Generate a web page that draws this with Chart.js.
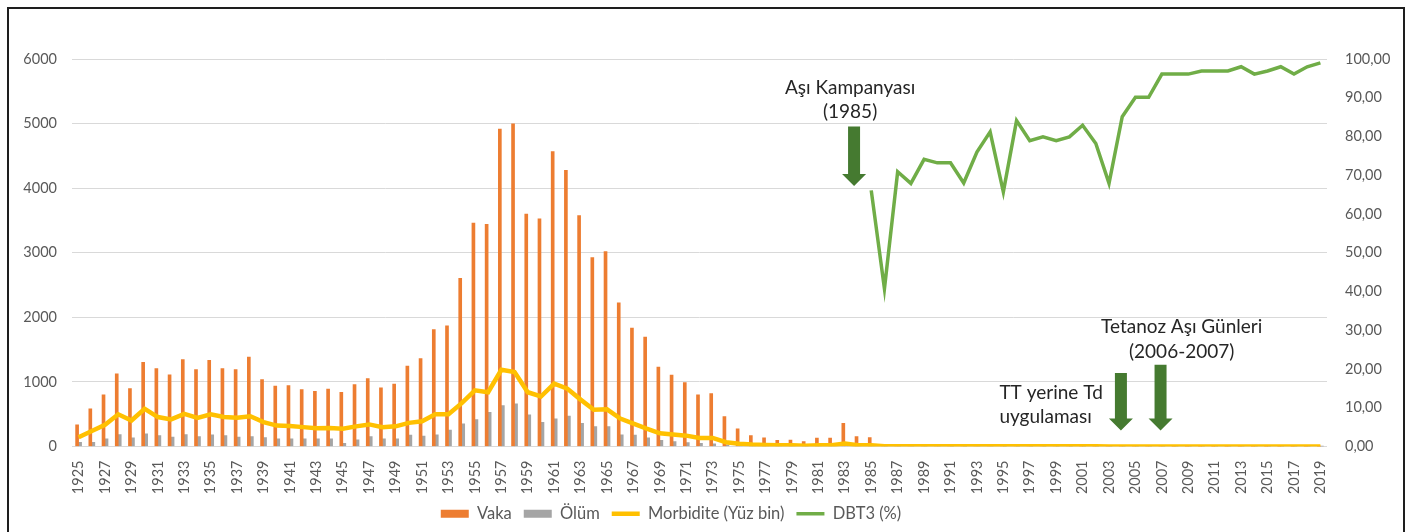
<!DOCTYPE html>
<html>
<head>
<meta charset="utf-8">
<script src="https://cdn.jsdelivr.net/npm/chart.js@4"></script>
<style>
    html, body { margin: 0; padding: 0; background: #fff; }
    .wrap { position: relative; width: 1410px; height: 532px; overflow: hidden; }
    .frame {
        position: absolute; left: 7px; top: 7px; width: 1398px; height: 560px;
        border: 2px solid #1e1e1e; box-sizing: border-box; pointer-events: none;
    }
</style>
</head>
<body>
<div class="wrap">
    <canvas id="tetanozChart" width="1410" height="532"></canvas>
    <div class="frame"></div>
</div>
<script>
// Yillar (kategori)
const years = [
    1925, 1926, 1927, 1928, 1929, 1930, 1931, 1932, 1933, 1934,
    1935, 1936, 1937, 1938, 1939, 1940, 1941, 1942, 1943, 1944,
    1945, 1946, 1947, 1948, 1949, 1950, 1951, 1952, 1953, 1954,
    1955, 1956, 1957, 1958, 1959, 1960, 1961, 1962, 1963, 1964,
    1965, 1966, 1967, 1968, 1969, 1970, 1971, 1972, 1973, 1974,
    1975, 1976, 1977, 1978, 1979, 1980, 1981, 1982, 1983, 1984,
    1985, 1986, 1987, 1988, 1989, 1990, 1991, 1992, 1993, 1994,
    1995, 1996, 1997, 1998, 1999, 2000, 2001, 2002, 2003, 2004,
    2005, 2006, 2007, 2008, 2009, 2010, 2011, 2012, 2013, 2014,
    2015, 2016, 2017, 2018, 2019
];

// Vaka sayisi
const vaka = [
    335, 585, 800, 1125, 895, 1305, 1205, 1110, 1345, 1190,
    1335, 1205, 1190, 1385, 1035, 935, 945, 880, 855, 890,
    840, 960, 1050, 910, 965, 1245, 1360, 1810, 1870, 2605,
    3460, 3440, 4915, 4995, 3600, 3525, 4565, 4275, 3575, 2925,
    3020, 2225, 1835, 1695, 1230, 1105, 990, 800, 820, 465,
    275, 170, 135, 95, 100, 75, 130, 130, 360, 155,
    140, 25, 20, 18, 15, 15, 12, 15, 35, 30,
    12, 10, 10, 9, 8, 8, 7, 6, 6, 5,
    5, 4, 4, 3, 3, 3, 2, 2, 2, 2,
    2, 1, 1, 1, 1
];

// Olum sayisi
const olum = [
    65, 65, 120, 185, 135, 195, 170, 145, 185, 155,
    180, 170, 145, 155, 140, 120, 120, 120, 120, 120,
    50, 105, 155, 120, 120, 175, 160, 180, 255, 350,
    415, 530, 635, 660, 490, 375, 430, 470, 360, 310,
    310, 180, 175, 135, 95, 75, 60, 50, 40, 25,
    15, 12, 10, 8, 8, 6, 8, 8, 15, 8,
    8, 5, 5, 4, 4, 4, 3, 3, 6, 5,
    3, 3, 2, 2, 2, 2, 2, 2, 1, 1,
    1, 1, 1, 1, 1, 1, 1, 1, 1, 1,
    1, 1, 1, 1, 1
];

// Morbidite (yuz binde)
const morbidite = [
    2.4, 4.0, 5.6, 8.3, 6.7, 9.7, 7.6, 7.0, 8.4, 7.4,
    8.3, 7.6, 7.4, 7.8, 6.3, 5.4, 5.3, 5.0, 4.7, 4.8,
    4.6, 5.2, 5.7, 5.0, 5.2, 6.1, 6.5, 8.3, 8.3, 11.2,
    14.5, 14.0, 19.8, 19.2, 14.0, 12.9, 16.2, 14.9, 12.1, 9.5,
    9.6, 7.2, 5.9, 4.6, 3.4, 3.1, 2.8, 2.2, 2.2, 1.1,
    0.7, 0.5, 0.4, 0.3, 0.3, 0.2, 0.3, 0.3, 0.8, 0.3,
    0.3, 0.05, 0.05, 0.05, 0.05, 0.05, 0.05, 0.05, 0.06, 0.06,
    0.05, 0.05, 0.04, 0.04, 0.04, 0.04, 0.04, 0.04, 0.03, 0.03,
    0.03, 0.03, 0.03, 0.03, 0.03, 0.03, 0.02, 0.02, 0.02, 0.02,
    0.02, 0.02, 0.02, 0.02, 0.02
];

// DBT3 asilama hizi (%) - 1985 ve sonrasi
const dbt3StartYear = 1985;
const dbt3 = [
    66.1, 40.7, 70.9, 67.9, 74.1, 73.2, 73.2, 68.0, 76.0, 81.2,
    65.7, 84.1, 78.9, 79.9, 78.9, 79.9, 82.9, 78.2, 67.9, 85.1,
    90.1, 90.1, 96.1, 96.1, 96.1, 96.9, 96.9, 96.9, 98.0, 96.1,
    96.9, 98.0, 96.1, 98.0, 99.0
];

const dbt3Data = years.map(y => y < dbt3StartYear ? null : dbt3[y - dbt3StartYear]);

// Notlar (oklar ve yazilar)
const notes = [
    { lines: ['Aşı Kampanyası', '(1985)'], x: 58.4, ys: [92.6, 86.4], align: 'center' },
    { lines: ['TT yerine Td', 'uygulaması'], x: 69.7, ys: [13.8, 7.7], align: 'left' },
    { lines: ['Tetanoz Aşı Günleri', '(2006-2007)'], x: 83.5, ys: [30.8, 24.3], align: 'center' }
];
const arrows = [
    { x: 58.7, top: 82.6, tip: 67.2 },
    { x: 78.9, top: 19.0, tip: 4.1 },
    { x: 81.9, top: 21.1, tip: 4.1 }
];

const FONT = 'Lato, "Open Sans", sans-serif';

const notesPlugin = {
    id: 'notes',
    afterLayout(chart) {
        // legend biraz sola kayik duruyor
        if (chart.legend) {
            chart.legend.right -= 68;
        }
    },
    afterDatasetsDraw(chart) {
        const ctx = chart.ctx;
        const xs = chart.scales.x;
        const yr = chart.scales.y1;
        ctx.save();
        ctx.fillStyle = '#457a30';
        arrows.forEach(a => {
            const cx = xs.getPixelForValue(a.x);
            const top = yr.getPixelForValue(a.top);
            const tip = yr.getPixelForValue(a.tip);
            const head = 12;
            ctx.beginPath();
            ctx.moveTo(cx - 6, top);
            ctx.lineTo(cx + 6, top);
            ctx.lineTo(cx + 6, tip - head);
            ctx.lineTo(cx + 12, tip - head);
            ctx.lineTo(cx, tip);
            ctx.lineTo(cx - 12, tip - head);
            ctx.lineTo(cx - 6, tip - head);
            ctx.closePath();
            ctx.fill();
        });
        ctx.fillStyle = '#262626';
        ctx.font = '19px ' + FONT;
        ctx.textBaseline = 'middle';
        notes.forEach(n => {
            ctx.textAlign = n.align;
            const px = xs.getPixelForValue(n.x);
            n.lines.forEach((t, i) => {
                ctx.fillText(t, px, yr.getPixelForValue(n.ys[i]));
            });
        });
        ctx.restore();
    }
};

const ctx = document.getElementById('tetanozChart');
new Chart(ctx, {
    type: 'bar',
    data: {
        labels: years,
        datasets: [
            {
                label: 'Vaka',
                data: vaka,
                backgroundColor: '#ed7d31',
                borderWidth: 0,
                barThickness: 3,
                pointStyle: 'rect',
                yAxisID: 'y',
                order: 2
            },
            {
                label: 'Ölüm',
                data: olum,
                backgroundColor: '#a5a5a5',
                borderWidth: 0,
                barThickness: 3,
                pointStyle: 'rect',
                yAxisID: 'y',
                order: 2
            },
            {
                type: 'line',
                label: 'Morbidite (Yüz bin)',
                data: morbidite,
                borderColor: '#ffc000',
                backgroundColor: '#ffc000',
                borderWidth: 4.5,
                pointRadius: 0,
                pointStyle: 'line',
                tension: 0,
                yAxisID: 'y1',
                order: 1
            },
            {
                type: 'line',
                label: 'DBT3 (%)',
                data: dbt3Data,
                borderColor: '#70ad47',
                backgroundColor: '#70ad47',
                borderWidth: 3.5,
                pointRadius: 0,
                pointStyle: 'line',
                tension: 0,
                yAxisID: 'y1',
                order: 0
            }
        ]
    },
    options: {
        responsive: false,
        animation: false,
        layout: {
            padding: { top: 59, left: 0, right: 0, bottom: 0 }
        },
        plugins: {
            legend: {
                position: 'bottom',
                labels: {
                    usePointStyle: true,
                    pointStyleWidth: 28,
                    boxHeight: 8,
                    padding: 12,
                    color: '#595959',
                    font: { family: FONT, size: 16.5 },
                    sort: (a, b) => a.datasetIndex - b.datasetIndex
                }
            },
            tooltip: { enabled: false }
        },
        scales: {
            x: {
                grid: { display: false },
                border: { display: false },
                ticks: {
                    autoSkip: false,
                    minRotation: 90,
                    maxRotation: 90,
                    padding: 6,
                    color: '#595959',
                    font: { family: FONT, size: 14.5 },
                    callback: function(value, index) {
                        return index % 2 === 0 ? years[index] : '';
                    }
                },
                afterFit: function(scale) {
                    scale.height = 47;
                }
            },
            y: {
                position: 'left',
                min: 0,
                max: 6000,
                grid: { color: '#d9d9d9', drawTicks: false },
                border: { display: false },
                ticks: {
                    stepSize: 1000,
                    padding: 15,
                    color: '#595959',
                    font: { family: FONT, size: 14.5 },
                    callback: function(value) {
                        return String(value);
                    }
                },
                afterFit: function(scale) {
                    scale.width = 72;
                }
            },
            y1: {
                position: 'right',
                min: 0,
                max: 100,
                grid: { drawOnChartArea: false, drawTicks: false },
                border: { display: false },
                ticks: {
                    stepSize: 10,
                    padding: 18,
                    color: '#595959',
                    font: { family: FONT, size: 14.5 },
                    callback: function(value) {
                        return value.toFixed(2).replace('.', ',');
                    }
                },
                afterFit: function(scale) {
                    scale.width = 83;
                }
            }
        }
    },
    plugins: [notesPlugin]
});
</script>
</body>
</html>
